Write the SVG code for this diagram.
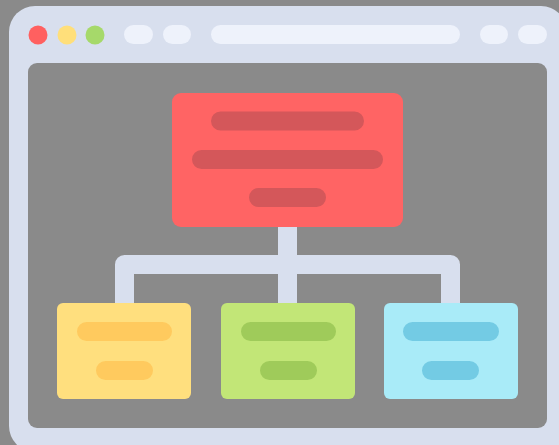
<svg xmlns="http://www.w3.org/2000/svg" width="559" height="445" viewBox="0 0 559 445">
<style>
.pill{fill:#eef2fb}
.bar{stroke-linecap:round;stroke-width:19;fill:none}
</style>
<rect x="0" y="0" width="559" height="445" fill="#8a8a8a"/>
<g id="window">
<rect x="9" y="6" width="558" height="446" rx="26" fill="#d8dfee"/>
<rect x="28" y="63" width="519" height="365" rx="9" fill="#8a8a8a"/>
<circle cx="38" cy="35" r="9.5" fill="#ff6060"/>
<circle cx="67" cy="35" r="9.5" fill="#ffdf7a"/>
<circle cx="95" cy="35" r="9.5" fill="#a6d96a"/>
<rect class="pill" x="124" y="25" width="29" height="19" rx="9.5"/>
<rect class="pill" x="163" y="25" width="28" height="19" rx="9.5"/>
<rect class="pill" x="211" y="25" width="249" height="19" rx="9.5"/>
<rect class="pill" x="480" y="25" width="28" height="19" rx="9.5"/>
<rect class="pill" x="518" y="25" width="29" height="19" rx="9.5"/>
</g>
<g id="connectors">
<path d="M124.5 303 V264.5 H450.5 V303 M287.5 226 V303" fill="none" stroke="#d8dfee" stroke-width="19" stroke-linejoin="round"/>
</g>
<g id="root">
<rect x="172" y="93" width="231" height="134" rx="9" fill="#ff6464"/>
<path class="bar" stroke="#d4575a" d="M220.5 121 H354.5 M201.5 159.5 H373.5 M258.5 197.5 H316.5"/>
</g>
<g id="child-yellow">
<rect x="57" y="303" width="134" height="96" rx="6" fill="#ffdf7e"/>
<path class="bar" stroke="#ffca5e" d="M86.5 331.5 H162.5 M105.5 370.5 H143.5"/>
</g>
<g id="child-green">
<rect x="221" y="303" width="134" height="96" rx="6" fill="#c2e677"/>
<path class="bar" stroke="#9fcb5a" d="M250.5 331.5 H326.5 M269.5 370.5 H307.5"/>
</g>
<g id="child-blue">
<rect x="384" y="303" width="134" height="96" rx="6" fill="#a9ebf8"/>
<path class="bar" stroke="#73cbe4" d="M412.5 331.5 H489.5 M431.5 370.5 H469.5"/>
</g>
</svg>
